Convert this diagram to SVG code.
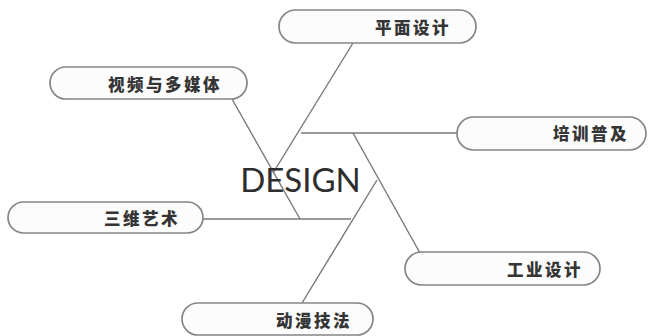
<svg xmlns="http://www.w3.org/2000/svg" width="648" height="336" viewBox="0 0 648 336">
<style>
.pill{fill:#fcfcfc;stroke:#858585;stroke-width:1.7}
.lbl{font-family:"Noto Sans CJK SC","Noto Sans",sans-serif;font-weight:900;font-size:16.5px;fill:#353535;text-anchor:middle;letter-spacing:2.5px;dominant-baseline:central}
.conn line{stroke:#777777;stroke-width:1.4;fill:none}
</style>
<rect width="648" height="336" fill="#ffffff"/>
<g id="connectors" class="conn">
<line x1="353" y1="43" x2="273" y2="173"/>
<line x1="232" y1="99" x2="300" y2="219"/>
<line x1="301" y1="133" x2="457" y2="133"/>
<line x1="203" y1="219" x2="351" y2="219"/>
<line x1="353" y1="133" x2="420" y2="253"/>
<line x1="377" y1="180" x2="302" y2="303"/>
</g>
<g id="center">
<text x="300.5" y="192" font-family="Lato,'Open Sans',sans-serif" font-size="33" fill="#2e2e2e" text-anchor="middle">DESIGN</text>
</g>
<g id="n-pingmian">
<rect class="pill" x="279" y="10" width="197" height="33" rx="16.5"/>
<text class="lbl" x="413" y="27">平面设计</text>
</g>
<g id="n-shipin">
<rect class="pill" x="50" y="67" width="197" height="32" rx="16"/>
<text class="lbl" x="165" y="84">视频与多媒体</text>
</g>
<g id="n-peixun">
<rect class="pill" x="457" y="117" width="189" height="33" rx="16.5"/>
<text class="lbl" x="591" y="133">培训普及</text>
</g>
<g id="n-sanwei">
<rect class="pill" x="8" y="202" width="195" height="31" rx="15.5"/>
<text class="lbl" x="142" y="218">三维艺术</text>
</g>
<g id="n-gongye">
<rect class="pill" x="405" y="252" width="195" height="33" rx="16.5"/>
<text class="lbl" x="545" y="269">工业设计</text>
</g>
<g id="n-dongman">
<rect class="pill" x="182" y="303" width="191" height="32" rx="16"/>
<text class="lbl" x="314" y="320">动漫技法</text>
</g>
</svg>
